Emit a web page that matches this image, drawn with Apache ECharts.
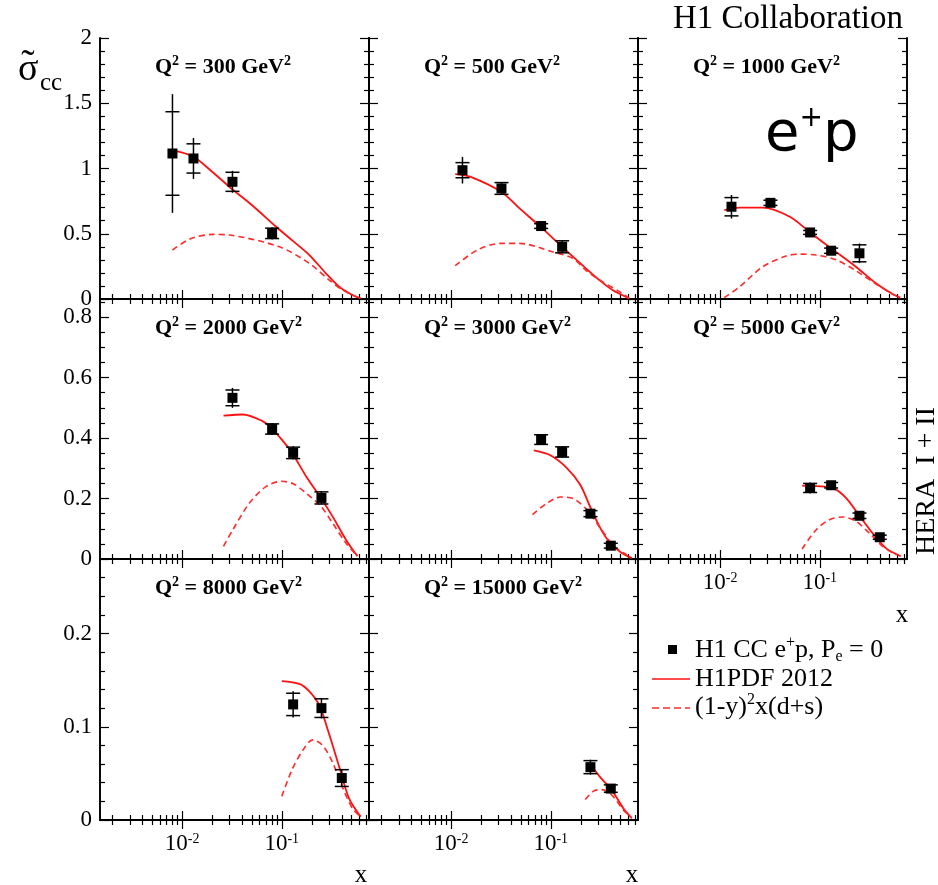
<!DOCTYPE html>
<html><head><meta charset="utf-8">
<script src="https://cdn.jsdelivr.net/npm/echarts@6/dist/echarts.min.js"></script>
<style>html,body{margin:0;padding:0;background:#fff}#c{width:938px;height:885px}</style>
</head><body><div id="c"></div><script>
// ---------- data ----------
const q2Labels = ['300', '500', '1000', '2000', '3000', '5000', '8000', '15000'];
const pointX = [
  [0.008, 0.013, 0.032, 0.08],
  [0.013, 0.032, 0.08, 0.13],
  [0.013, 0.032, 0.08, 0.13, 0.25],
  [0.032, 0.08, 0.13, 0.25],
  [0.08, 0.13, 0.25, 0.4],
  [0.08, 0.13, 0.25, 0.4],
  [0.13, 0.25, 0.4],
  [0.25, 0.4]
];
const pointY = [
  [1.115, 1.077, 0.898, 0.503],
  [0.987, 0.847, 0.559, 0.40],
  [0.707, 0.737, 0.51, 0.37, 0.35],
  [0.533, 0.43, 0.351, 0.202],
  [0.395, 0.354, 0.150, 0.044],
  [0.235, 0.244, 0.143, 0.072],
  [0.124, 0.12, 0.045],
  [0.0567, 0.0337]
];
const statErr = [
  [0.32, 0.112, 0.073, 0.04],
  [0.058, 0.045, 0.018, 0.046],
  [0.07, 0.02, 0.015, 0.02, 0.065],
  [0.026, 0.017, 0.019, 0.02],
  [0.016, 0.017, 0.01, 0.008],
  [0.015, 0.009, 0.009, 0.007],
  [0.012, 0.010, 0.009],
  [0.007, 0.004]
];
const totErr = [
  [0.455, 0.157, 0.084, 0.047],
  [0.102, 0.05, 0.022, 0.05],
  [0.09, 0.025, 0.018, 0.025, 0.075],
  [0.033, 0.02, 0.022, 0.022],
  [0.018, 0.019, 0.012, 0.01],
  [0.018, 0.011, 0.011, 0.009],
  [0.014, 0.011, 0.0095],
  [0.008, 0.005]
];
const solidX = [
  [0.008, 0.013, 0.02, 0.032, 0.05, 0.0877, 0.13, 0.189, 0.277, 0.377, 0.5, 0.62],
  [0.011, 0.0157, 0.032, 0.0486, 0.0787, 0.13, 0.225, 0.306, 0.416, 0.611],
  [0.011, 0.0157, 0.0268, 0.05, 0.08, 0.13, 0.23, 0.366, 0.536, 0.64],
  [0.026, 0.0407, 0.064, 0.078, 0.1, 0.127, 0.175, 0.247, 0.323, 0.44, 0.575],
  [0.0675, 0.099, 0.146, 0.198, 0.249, 0.313, 0.394, 0.516, 0.65],
  [0.0665, 0.092, 0.135, 0.183, 0.25, 0.338, 0.46, 0.65],
  [0.1, 0.15, 0.189, 0.238, 0.299, 0.377, 0.474, 0.62],
  [0.255, 0.313, 0.41, 0.536, 0.65]
];
const solidY = [
  [1.14, 1.09, 0.975, 0.84, 0.72, 0.554, 0.443, 0.337, 0.197, 0.094, 0.035, 0.005],
  [0.957, 0.936, 0.82, 0.694, 0.554, 0.40, 0.235, 0.146, 0.069, 0.005],
  [0.681, 0.70, 0.70, 0.63, 0.51, 0.388, 0.247, 0.12, 0.038, 0.01],
  [0.474, 0.478, 0.456, 0.434, 0.395, 0.351, 0.274, 0.202, 0.141, 0.064, 0.009],
  [0.359, 0.343, 0.300, 0.245, 0.172, 0.103, 0.053, 0.02, 0.003],
  [0.243, 0.241, 0.235, 0.202, 0.143, 0.086, 0.036, 0.009],
  [0.149, 0.146, 0.138, 0.123, 0.092, 0.057, 0.023, 0.0035],
  [0.0585, 0.046, 0.032, 0.0124, 0.002]
];
const dashX = [
  [0.008, 0.012, 0.0204, 0.0299, 0.0946, 0.189, 0.299, 0.407, 0.574],
  [0.011, 0.0183, 0.0313, 0.0486, 0.104, 0.166, 0.225, 0.33, 0.49, 0.611],
  [0.011, 0.0157, 0.0268, 0.046, 0.0625, 0.092, 0.146, 0.23, 0.366, 0.536, 0.64],
  [0.026, 0.0323, 0.0474, 0.0697, 0.1, 0.13, 0.175, 0.247, 0.323, 0.44, 0.575],
  [0.0655, 0.092, 0.125, 0.17, 0.23, 0.313, 0.426, 0.58],
  [0.0665, 0.092, 0.125, 0.17, 0.23, 0.313, 0.426, 0.58],
  [0.1, 0.128, 0.162, 0.204, 0.257, 0.323, 0.407, 0.512, 0.62],
  [0.222, 0.268, 0.326, 0.41, 0.536, 0.65]
];
const dashY = [
  [0.375, 0.46, 0.495, 0.49, 0.40, 0.273, 0.145, 0.069, 0.013],
  [0.255, 0.375, 0.426, 0.426, 0.362, 0.312, 0.22, 0.132, 0.056, 0.005],
  [0.01, 0.094, 0.247, 0.33, 0.344, 0.337, 0.30, 0.217, 0.115, 0.038, 0.01],
  [0.042, 0.097, 0.185, 0.24, 0.257, 0.249, 0.218, 0.174, 0.119, 0.053, 0.009],
  [0.147, 0.185, 0.205, 0.199, 0.163, 0.103, 0.044, 0.014],
  [0.033, 0.097, 0.13, 0.139, 0.125, 0.086, 0.042, 0.014],
  [0.0255, 0.055, 0.0745, 0.086, 0.08, 0.062, 0.035, 0.0124, 0.0035],
  [0.022, 0.031, 0.0326, 0.0266, 0.0106, 0.002]
];
const xMajorTicks = [0.01, 0.1];
const yMajorTicks = [[0, 0.5, 1, 1.5, 2], [0, 0.2, 0.4, 0.6, 0.8], [0, 0.1, 0.2]];
const yMinorStep = [0.1, 0.05, 0.02];
const yMaxRow = [2, 0.86, 0.28];
const X_MIN = 0.0015, X_MAX = 0.75;

// ---------- layout ----------
const F = '"Liberation Serif", "Times New Roman", serif';
const colLeft = [100, 369, 638];
const rowTop = [38, 299, 559];
const rowH = [261, 260, 261];
const W = 269;

const xMinorTicks = [];
for (let e = -3; e <= -1; e++) for (let k = 2; k <= 9; k++) {
  const v = +(k * Math.pow(10, e)).toPrecision(3);
  if (v > X_MIN && v < X_MAX) xMinorTicks.push(v);
}
function yMinor(r) {
  const out = [];
  const st = yMinorStep[r];
  for (let i = 1; i * st < yMaxRow[r] - 1e-9; i++) {
    const v = +(i * st).toFixed(4);
    if (!yMajorTicks[r].some(m => Math.abs(m - v) < 1e-6)) out.push(v);
  }
  return out;
}

const tickStyle = { color: '#000', width: 1.2 };
const lineAx = { show: true, lineStyle: { color: '#000', width: 1.6 } };

const grids = [], xAxes = [], yAxes = [], series = [], graphics = [];
const xLabelPanels = [5, 6, 7];

for (let g = 0; g < 8; g++) {
  const r = Math.floor(g / 3), c = g % 3;
  grids.push({ left: colLeft[c], top: rowTop[r], width: W, height: rowH[r], outerBoundsMode: 'none', containLabel: false });
  const xb = { type: 'log', logBase: 10, gridIndex: g, min: X_MIN, max: X_MAX, splitLine: { show: false }, axisLine: lineAx };
  xAxes.push(Object.assign({}, xb, {
    position: 'bottom',
    axisTick: { inside: true, length: 9, customValues: xMajorTicks, lineStyle: tickStyle },
    axisLabel: {
      show: xLabelPanels.includes(g), customValues: xMajorTicks, margin: 12,
      fontFamily: F, fontSize: 23, color: '#000',
      formatter: v => '10{s|' + Math.round(Math.log10(v)) + '}',
      rich: { s: { fontFamily: F, fontSize: 14, color: '#000', verticalAlign: 'top' } }
    }
  }));
  xAxes.push(Object.assign({}, xb, { position: 'bottom', axisTick: { inside: true, length: 5, customValues: xMinorTicks, lineStyle: tickStyle }, axisLabel: { show: false } }));
  xAxes.push(Object.assign({}, xb, { position: 'top', axisTick: { inside: true, length: 9, customValues: xMajorTicks, lineStyle: tickStyle }, axisLabel: { show: false } }));
  xAxes.push(Object.assign({}, xb, { position: 'top', axisTick: { inside: true, length: 5, customValues: xMinorTicks, lineStyle: tickStyle }, axisLabel: { show: false } }));

  const yb = { type: 'value', gridIndex: g, min: 0, max: yMaxRow[r], splitLine: { show: false }, axisLine: lineAx };
  yAxes.push(Object.assign({}, yb, {
    position: 'left',
    axisTick: { inside: true, length: 9, customValues: yMajorTicks[r], lineStyle: tickStyle },
    axisLabel: { show: c === 0, customValues: yMajorTicks[r], margin: 8, fontFamily: F, fontSize: 23, color: '#000' }
  }));
  yAxes.push(Object.assign({}, yb, { position: 'left', axisTick: { inside: true, length: 5, customValues: yMinor(r), lineStyle: tickStyle }, axisLabel: { show: false } }));
  yAxes.push(Object.assign({}, yb, { position: 'right', axisTick: { inside: true, length: 9, customValues: yMajorTicks[r], lineStyle: tickStyle }, axisLabel: { show: false } }));
  yAxes.push(Object.assign({}, yb, { position: 'right', axisTick: { inside: true, length: 5, customValues: yMinor(r), lineStyle: tickStyle }, axisLabel: { show: false } }));

  const xi = g * 4, yi = g * 4;
  series.push({
    type: 'line', xAxisIndex: xi, yAxisIndex: yi, showSymbol: false, smooth: 0.3, z: 2,
    lineStyle: { color: '#ff1010', width: 1.8 },
    data: solidX[g].map((x, i) => [x, solidY[g][i]])
  });
  series.push({
    type: 'line', xAxisIndex: xi, yAxisIndex: yi, showSymbol: false, smooth: 0.3, z: 2,
    lineStyle: { color: '#ff2a2a', width: 1.6, type: [6, 4] },
    data: dashX[g].map((x, i) => [x, dashY[g][i]])
  });
  series.push({
    type: 'custom', xAxisIndex: xi, yAxisIndex: yi, z: 3,
    encode: { x: 0, y: 1 },
    data: pointX[g].map((x, i) => [x, pointY[g][i], statErr[g][i], totErr[g][i]]),
    renderItem: function (params, api) {
      const x = api.value(0), y = api.value(1), s = api.value(2), t = api.value(3);
      const a = api.coord([x, y + t]), b = api.coord([x, y - t]);
      const sa = api.coord([x, y + s]), sb = api.coord([x, y - s]);
      const hw = 7, st = { stroke: '#000', lineWidth: 1.5 };
      return {
        type: 'group', children: [
          { type: 'line', shape: { x1: a[0], y1: a[1], x2: b[0], y2: b[1] }, style: st },
          { type: 'line', shape: { x1: sa[0] - hw, y1: sa[1], x2: sa[0] + hw, y2: sa[1] }, style: st },
          { type: 'line', shape: { x1: sb[0] - hw, y1: sb[1], x2: sb[0] + hw, y2: sb[1] }, style: st }
        ]
      };
    }
  });
  series.push({
    type: 'scatter', xAxisIndex: xi, yAxisIndex: yi, symbol: 'rect', symbolSize: 10, z: 4,
    itemStyle: { color: '#000', opacity: 1 },
    data: pointX[g].map((x, i) => [x, pointY[g][i]])
  });

  graphics.push({
    type: 'text', x: colLeft[c] + 55, y: rowTop[r] + 29,
    style: {
      text: '{b|Q}{s|2}{b| = ' + q2Labels[g] + ' GeV}{s|2}', align: 'left', verticalAlign: 'middle',
      rich: {
        b: { fontFamily: F, fontWeight: 'bold', fontSize: 22, color: '#000', lineHeight: 26 },
        s: { fontFamily: F, fontWeight: 'bold', fontSize: 14, color: '#000', verticalAlign: 'top' }
      }
    }
  });
}

// axis "x" names
[[902, 615], [361, 875], [632, 875]].forEach(p => graphics.push({
  type: 'text', x: p[0], y: p[1], style: { text: 'x', fontFamily: F, fontSize: 25, fill: '#000', align: 'center', verticalAlign: 'middle' }
}));
// y title: sigma with tilde, subscript cc
graphics.push({ type: 'text', x: 18, y: 70, style: { text: 'σ', fontFamily: F, fontSize: 38, fill: '#000', align: 'left', verticalAlign: 'middle' } });
graphics.push({ type: 'text', x: 28, y: 66, style: { text: '˜', fontFamily: F, fontSize: 40, fill: '#000', align: 'center', verticalAlign: 'middle' } });
graphics.push({ type: 'text', x: 40, y: 83, style: { text: 'cc', fontFamily: F, fontSize: 25, fill: '#000', align: 'left', verticalAlign: 'middle' } });
// collaboration label
graphics.push({ type: 'text', x: 903, y: 19, style: { text: 'H1 Collaboration', fontFamily: F, fontSize: 33, fill: '#000', align: 'right', verticalAlign: 'middle' } });
// e+p
graphics.push({
  type: 'text', x: 765, y: 135,
  style: {
    text: '{e|e}{s|+}{e|p}', align: 'left', verticalAlign: 'middle',
    rich: { e: { fontFamily: '"DejaVu Sans", sans-serif', fontSize: 56, color: '#000', lineHeight: 60 }, s: { fontFamily: '"DejaVu Sans", sans-serif', fontSize: 28, color: '#000', verticalAlign: 'top' } }
  }
});
// HERA I + II
graphics.push({ type: 'text', x: 927, y: 481, rotation: Math.PI / 2, style: { text: 'HERA  I + II', fontFamily: F, fontSize: 28, fill: '#000', align: 'center', verticalAlign: 'middle' } });
// legend
graphics.push({ type: 'rect', shape: { x: 668, y: 645, width: 9, height: 9 }, style: { fill: '#000' } });
graphics.push({ type: 'line', shape: { x1: 652, y1: 679, x2: 690, y2: 679 }, style: { stroke: '#ff1010', lineWidth: 1.6 } });
graphics.push({ type: 'line', shape: { x1: 652, y1: 708, x2: 690, y2: 708 }, style: { stroke: '#ff2a2a', lineWidth: 1.6, lineDash: [7, 4] } });
const legRich = {
  t: { fontFamily: F, fontSize: 26, color: '#000', lineHeight: 30 },
  sup: { fontFamily: F, fontSize: 16, color: '#000', verticalAlign: 'top' },
  sub: { fontFamily: F, fontSize: 16, color: '#000', verticalAlign: 'bottom' }
};
graphics.push({ type: 'text', x: 695, y: 650, style: { text: '{t|H1 CC e}{sup|+}{t|p, P}{sub|e}{t| = 0}', align: 'left', verticalAlign: 'middle', rich: legRich } });
graphics.push({ type: 'text', x: 695, y: 679, style: { text: '{t|H1PDF 2012}', align: 'left', verticalAlign: 'middle', rich: legRich } });
graphics.push({ type: 'text', x: 695, y: 707, style: { text: '{t|(1-y)}{sup|2}{t|x(d+s)}', align: 'left', verticalAlign: 'middle', rich: legRich } });

const chart = echarts.init(document.getElementById('c'), null, { renderer: 'canvas' });
chart.setOption({
  animation: false,
  backgroundColor: '#fff',
  grid: grids, xAxis: xAxes, yAxis: yAxes, series: series, graphic: graphics
});
</script></body></html>
